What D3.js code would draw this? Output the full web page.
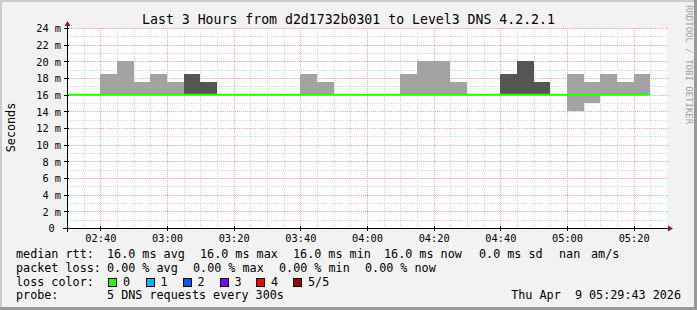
<!DOCTYPE html>
<html><head><meta charset="utf-8">
<script src="https://cdn.jsdelivr.net/npm/d3@7/dist/d3.min.js"></script>
<style>
body{margin:0;background:#f2f2f2}
svg{display:block}
text{font-family:"DejaVu Sans Mono",monospace;white-space:pre}
</style>
</head><body>
<svg id="chart" width="697" height="310"></svg>
<script>
// ---------------- data ----------------
const titleText = "Last 3 Hours from d2d1732b0301 to Level3 DNS 4.2.2.1";
const chartDay = "2026-04-09";
const timeDomain = ["02:30", "05:30"];
const slotStarts = ["02:30","02:35","02:40","02:45","02:50","02:55","03:00","03:05","03:10","03:15","03:20","03:25",
  "03:30","03:35","03:40","03:45","03:50","03:55","04:00","04:05","04:10","04:15","04:20","04:25",
  "04:30","04:35","04:40","04:45","04:50","04:55","05:00","05:05","05:10","05:15","05:20","05:25"];
const medianRtt = [16,16,16,16,16,16,16,16,16,16,16,16,16,16,16,16,16,16,16,16,16,16,16,16,16,16,16,16,16,16,16,16,16,16,16,null];
const smokeLow  = [null,null,16,16,16,16,16,16,16,null,null,null,null,null,16,16,null,null,null,null,16,16,16,16,null,null,16,16,16,null,14,15,16,16,16,null];
const smokeHigh = [null,null,18.5,20,17.5,18.5,17.5,18.5,17.5,null,null,null,null,null,18.5,17.5,null,null,null,null,18.5,20,20,17.5,null,null,18.5,20,17.5,null,18.5,17.5,18.5,17.5,18.5,null];
const smokeDense = [0,0,0,0,0,0,0,1,1,0,0,0,0,0,0,0,0,0,0,0,0,0,0,0,0,0,1,1,1,0,0,0,0,0,0,0];
const xTickLabels = ["02:40","03:00","03:20","03:40","04:00","04:20","04:40","05:00","05:20"];
const yTickValues = [0,2,4,6,8,10,12,14,16,18,20,22,24];
const yTickLabels = ["0 ","2 m","4 m","6 m","8 m","10 m","12 m","14 m","16 m","18 m","20 m","22 m","24 m"];
const yAxisTitle = "Seconds";
const watermark = "RRDTOOL / TOBI OETIKER";
const rttLegend = ["median rtt:","16.0 ms avg","16.0 ms max","16.0 ms min","16.0 ms now","0.0 ms sd","nan","am/s"];
const lossLegend = ["packet loss:","0.00 % avg","0.00 % max","0.00 % min","0.00 % now"];
const lossColorTitle = "loss color:";
const lossLabels = ["0","1","2","3","4","5/5"];
const probeLegend = ["probe:","5 DNS requests every 300s"];
const stampText = "Thu Apr  9 05:29:43 2026";

// ---------------- styles ----------------
const lossColors = ["#26ff00","#00b8ff","#0059ff","#7e00ff","#ff0000","#a00000"];
const smokeColors = ["#a3a3a3","#555555"];

(function () {
const svg = d3.select("#chart");
const W = 697, H = 310;
const pL = 67, pR = 667, pT = 28, pB = 228;
const parseT = d3.timeParse("%Y-%m-%d %H:%M");
const T = s => parseT(chartDay + " " + s);

const x = d3.scaleTime().domain(timeDomain.map(T)).range([pL, pR]);
const y = d3.scaleLinear().domain([0, 24]).range([pB, pT]);

// background + frame
svg.append("rect").attr("width", W).attr("height", H).attr("fill", "#f2f2f2");
svg.append("rect").attr("x", 0).attr("y", 0).attr("width", W).attr("height", 2).attr("fill", "#cbcbcb");
svg.append("rect").attr("x", 0).attr("y", 0).attr("width", 2).attr("height", H).attr("fill", "#cbcbcb");
svg.append("rect").attr("x", 0).attr("y", H - 3).attr("width", W).attr("height", 3).attr("fill", "#999999");
svg.append("rect").attr("x", W - 3).attr("y", 0).attr("width", 3).attr("height", H).attr("fill", "#999999");

// canvas
svg.append("rect").attr("x", pL).attr("y", pT).attr("width", pR - pL).attr("height", pB - pT).attr("fill", "#ffffff");

// grid
const g = svg.append("g").attr("shape-rendering", "crispEdges");
const minorY = d3.range(0, 25, 1).filter(v => v % 2 !== 0);
g.selectAll(".hy").data(minorY).join("line")
  .attr("x1", pL).attr("x2", pR + 1)
  .attr("y1", d => Math.round(y(d)) + 0.5).attr("y2", d => Math.round(y(d)) + 0.5)
  .attr("stroke", "#d6d6d6").attr("stroke-dasharray", "1,1");
const fmt = d3.timeFormat("%H:%M");
const minorX = d3.range(1, 36).map(i => d3.timeMinute.offset(T(timeDomain[0]), i * 5))
  .filter(t => !xTickLabels.includes(fmt(t)));
g.selectAll(".vx").data(minorX).join("line")
  .attr("x1", d => Math.round(x(d)) + 0.5).attr("x2", d => Math.round(x(d)) + 0.5)
  .attr("y1", pT).attr("y2", pB)
  .attr("stroke", "#d6d6d6").attr("stroke-dasharray", "1,1");
g.selectAll(".hY").data(yTickValues.filter(v => v > 0)).join("line")
  .attr("x1", pL).attr("x2", pR + 1)
  .attr("y1", d => Math.round(y(d)) + 0.5).attr("y2", d => Math.round(y(d)) + 0.5)
  .attr("stroke", "#f4a6a6").attr("stroke-dasharray", "1,1");
g.selectAll(".vX").data(xTickLabels.map(T)).join("line")
  .attr("x1", d => Math.round(x(d)) + 0.5).attr("x2", d => Math.round(x(d)) + 0.5)
  .attr("y1", pT).attr("y2", pB)
  .attr("stroke", "#f4a6a6").attr("stroke-dasharray", "1,1");

// smoke
const slots = slotStarts.map((s, i) => ({t0: T(s), t1: d3.timeMinute.offset(T(s), 5), lo: smokeLow[i], hi: smokeHigh[i], dense: smokeDense[i], med: medianRtt[i]}));
svg.append("g").attr("shape-rendering", "crispEdges")
  .selectAll("rect").data(slots.filter(d => d.hi != null)).join("rect")
  .attr("x", d => Math.round(x(d.t0))).attr("width", d => Math.round(x(d.t1)) - Math.round(x(d.t0)))
  .attr("y", d => Math.round(y(d.hi))).attr("height", d => Math.round(y(d.lo)) - Math.round(y(d.hi)))
  .attr("fill", d => smokeColors[d.dense]);

// median line (step)
const medPts = [];
slots.forEach(d => { if (d.med != null) { medPts.push([x(d.t0), y(d.med)]); medPts.push([x(d.t1), y(d.med)]); } });
svg.append("path").attr("d", d3.line()(medPts)).attr("fill", "none")
  .attr("stroke", lossColors[0]).attr("stroke-width", 2);

// axes
const ax = svg.append("g").attr("shape-rendering", "crispEdges");
ax.append("line").attr("x1", pL - 4).attr("x2", pR + 2).attr("y1", pB + 0.5).attr("y2", pB + 0.5).attr("stroke", "#000");
ax.append("line").attr("x1", pL + 0.5).attr("x2", pL + 0.5).attr("y1", pB + 4).attr("y2", pT - 4).attr("stroke", "#000");
svg.append("path").attr("d", `M${pR + 6},${pB + 0.5} L${pR + 1},${pB - 2.5} L${pR + 1},${pB + 3.5} Z`).attr("fill", "#8b1a1a");
svg.append("path").attr("d", `M${pL + 0.5},${pT - 7} L${pL - 2.5},${pT - 2} L${pL + 3.5},${pT - 2} Z`).attr("fill", "#8b1a1a");
ax.selectAll(".tx").data(xTickLabels.map(T)).join("line")
  .attr("x1", d => Math.round(x(d)) + 0.5).attr("x2", d => Math.round(x(d)) + 0.5)
  .attr("y1", pB - 2).attr("y2", pB + 3).attr("stroke", "#000");
ax.selectAll(".ty").data(yTickValues).join("line")
  .attr("x1", pL - 3).attr("x2", pL + 2)
  .attr("y1", d => Math.round(y(d)) + 0.5).attr("y2", d => Math.round(y(d)) + 0.5).attr("stroke", "#000");

// axis labels via d3 axes (lines hidden)
const xAxis = d3.axisBottom(x).tickValues(xTickLabels.map(T)).tickFormat(fmt).tickSize(0).tickPadding(0);
const xa = svg.append("g").attr("transform", `translate(0,${pB})`).call(xAxis);
xa.select(".domain").remove();
xa.selectAll("text").attr("y", 14).attr("dy", null).attr("font-size", "10.3px").attr("fill", "#000")
  .attr("font-family", '"DejaVu Sans Mono",monospace');

const yAxis = d3.axisLeft(y).tickValues(yTickValues).tickFormat((d, i) => yTickLabels[i]).tickSize(0).tickPadding(0);
const ya = svg.append("g").attr("transform", `translate(61,0)`).call(yAxis);
ya.select(".domain").remove();
ya.selectAll("text").attr("x", 0).attr("dy", "0.36em").attr("font-size", "10.3px").attr("fill", "#000")
  .attr("font-family", '"DejaVu Sans Mono",monospace').style("white-space", "pre");

// title
svg.append("text").attr("x", 348.5).attr("y", 23.5).attr("text-anchor", "middle")
  .attr("font-size", "13.2px").attr("fill", "#000").text(titleText);

// y axis title
svg.append("text").attr("transform", "translate(15,127.5) rotate(-90)").attr("text-anchor", "middle")
  .attr("font-size", "11.75px").attr("fill", "#000").text(yAxisTitle);

// watermark
svg.append("text").attr("transform", "translate(686,5) rotate(90)").attr("text-anchor", "start")
  .attr("font-size", "9px").attr("fill", "#a0a0a0").text(watermark);

// legend
const lf = "11.75px";
const row = (items, xs, yy) => items.forEach((t, i) =>
  svg.append("text").attr("x", xs[i]).attr("y", yy).attr("font-size", lf).attr("fill", "#000").text(t));
row(rttLegend, [16,107,200,293,384,479,559,591], 258);
row(lossLegend, [16,107,193,279,365], 272);
row([lossColorTitle], [16], 285.5);
const boxX = [108,145.5,182.5,219.5,256,293];
lossLabels.forEach((t, i) => {
  svg.append("rect").attr("x", Math.round(boxX[i]) + 0.5).attr("y", 278.5).attr("width", 8).attr("height", 8)
    .attr("fill", lossColors[i]).attr("stroke", "#000").attr("stroke-width", 1);
  svg.append("text").attr("x", boxX[i] + 15).attr("y", 285.5).attr("font-size", lf).attr("fill", "#000").text(t);
});
row(probeLegend, [16,107], 299);
svg.append("text").attr("x", 681).attr("y", 299).attr("text-anchor", "end").attr("font-size", lf)
  .attr("fill", "#000").text(stampText);
})();
</script>
</body></html>
